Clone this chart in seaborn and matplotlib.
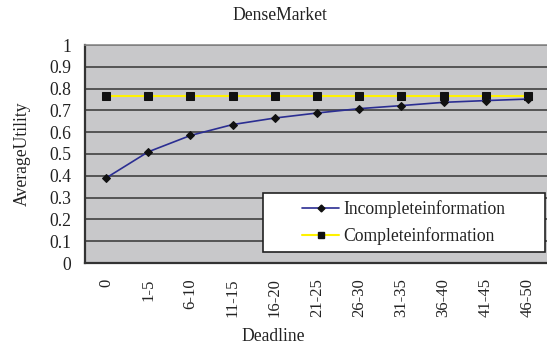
import matplotlib
matplotlib.use("Agg")
import matplotlib.pyplot as plt
from matplotlib.patches import Rectangle
from matplotlib.lines import Line2D
from matplotlib.ticker import FixedLocator
import seaborn as sns
import pandas as pd

# Deadline buckets and average utility per strategy
deadlines = ["0", "1-5", "6-10", "11-15", "16-20", "21-25",
             "26-30", "31-35", "36-40", "41-45", "46-50"]
incomplete = [0.39, 0.51, 0.585, 0.635, 0.665, 0.688,
              0.708, 0.722, 0.737, 0.745, 0.752]
complete = [0.765, 0.765, 0.765, 0.765, 0.765, 0.765,
            0.765, 0.765, 0.765, 0.765, 0.765]
yticks = [0, 0.1, 0.2, 0.3, 0.4, 0.5, 0.6, 0.7, 0.8, 0.9, 1]
ytick_labels = ["0", "0.1", "0.2", "0.3", "0.4", "0.5",
                "0.6", "0.7", "0.8", "0.9", "1"]

sns.set_style("white")
plt.rcParams["font.family"] = ["Liberation Serif", "DejaVu Serif"]
FS = 12.7

df_inc = pd.DataFrame({"Deadline": deadlines, "Utility": incomplete})
df_com = pd.DataFrame({"Deadline": deadlines, "Utility": complete})

fig = plt.figure(figsize=(5.47, 3.5), dpi=100)
ax = fig.add_axes([85 / 547, 1 - 263 / 350, 464 / 547, 218 / 350])
ax.set_facecolor("#c8c8ca")

NAVY = "#2b2e92"
YELLOW = "#fff200"

sns.lineplot(data=df_com, x="Deadline", y="Utility", ax=ax, sort=False,
             color=YELLOW, linewidth=1.5, marker="s", markersize=6,
             markerfacecolor="#111111", markeredgecolor="#111111", zorder=3)
sns.lineplot(data=df_inc, x="Deadline", y="Utility", ax=ax, sort=False,
             color=NAVY, linewidth=1.2, marker="D", markersize=4.2,
             markerfacecolor="#111111", markeredgecolor="#111111", zorder=4)

ax.set_xlim(-0.5, len(deadlines) - 0.5)
ax.set_ylim(0, 1)

# Horizontal gridlines
ax.yaxis.set_major_locator(FixedLocator(yticks))
ax.set_yticklabels(ytick_labels, fontsize=FS)
ax.grid(axis="y", color="#353535", linewidth=1.1, zorder=1)
ax.grid(axis="x", visible=False)
ax.set_axisbelow(True)

# Category labels at centres, tick marks between categories
ax.set_xticks(range(len(deadlines)))
ax.set_xticklabels(deadlines, rotation=90, fontsize=12, va="top", ha="center")
ax.xaxis.set_minor_locator(FixedLocator([i + 0.5 for i in range(len(deadlines) - 1)]))
ax.tick_params(axis="x", which="major", length=0, pad=11, colors="#222222")
ax.tick_params(axis="x", which="minor", direction="in", length=5, width=1.2,
               color="#333333")
ax.tick_params(axis="y", which="major", direction="in", length=5, width=1.2,
               color="#333333", pad=10, labelcolor="#222222")
ax.tick_params(axis="x", labelcolor="#222222")

for side in ["left", "bottom"]:
    ax.spines[side].set_color("#333333")
    ax.spines[side].set_linewidth(1.6)
ax.spines["top"].set_color("#8a8a8a")
ax.spines["top"].set_linewidth(1.2)
ax.spines["right"].set_visible(False)

ax.set_title("DenseMarket", fontsize=FS, x=(279.5 - 85) / 464, y=1.0,
             pad=18, color="#222222")
ax.set_xlabel("Deadline", fontsize=FS, color="#222222")
ax.xaxis.set_label_coords((273 - 85) / 464, -(328 - 263) / 218)
ax.set_ylabel("AverageUtility", fontsize=FS, color="#222222")
ax.yaxis.set_label_coords(-(85 - 31) / 464, 0.5)

# Legend box
ax.add_patch(Rectangle((0.384, 0.05), 0.607, 0.271, transform=ax.transAxes,
                       facecolor="white", edgecolor="#222222", linewidth=1.2,
                       zorder=5, clip_on=False))
handles = [
    Line2D([], [], color=NAVY, linewidth=1.2, marker="D", markersize=3.5,
           markerfacecolor="#111111", markeredgecolor="#111111"),
    Line2D([], [], color=YELLOW, linewidth=1.5, marker="s", markersize=5,
           markerfacecolor="#111111", markeredgecolor="#111111"),
]
leg = ax.legend(handles, ["Incompleteinformation", "Completeinformation"],
                loc="center", bbox_to_anchor=(0.6875, 0.186), frameon=False,
                fontsize=FS, handlelength=2.1, handletextpad=0.25,
                labelspacing=0.5, borderpad=0, borderaxespad=0)
leg.set_zorder(6)
for t in leg.get_texts():
    t.set_color("#222222")

fig.savefig("out.png", dpi=100, facecolor="white")
